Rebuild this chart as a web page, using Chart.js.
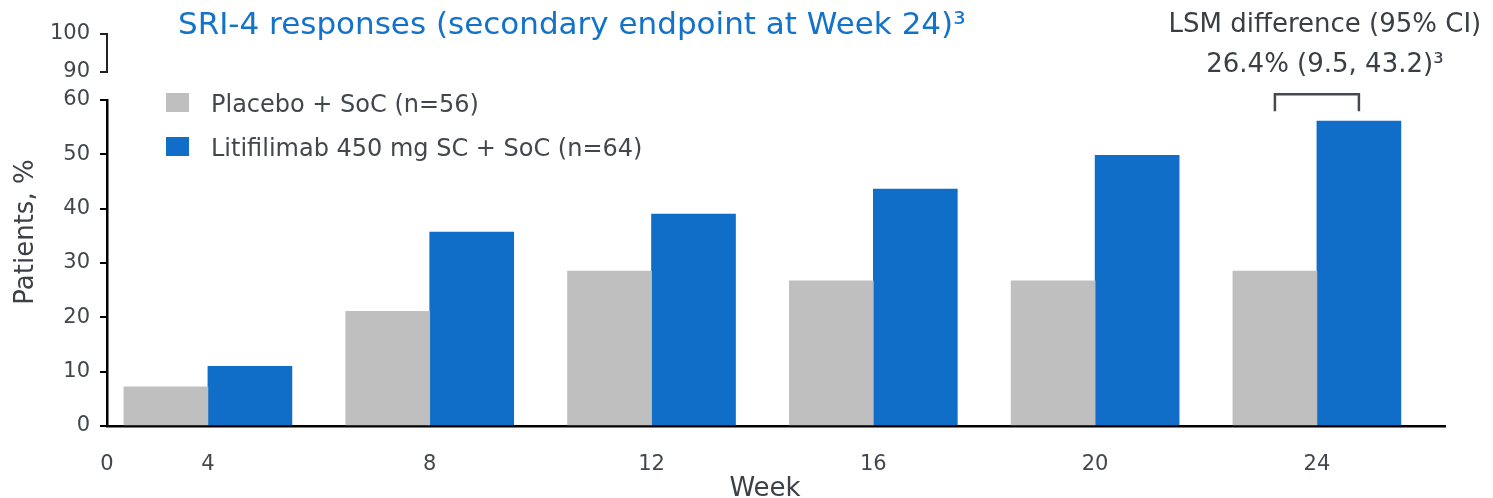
<!DOCTYPE html>
<html>
<head>
<meta charset="utf-8">
<script src="https://cdn.jsdelivr.net/npm/chart.js@4.4.1/dist/chart.umd.min.js"></script>
<style>
  html, body { margin: 0; padding: 0; background: #fff; }
  #wrap { width: 1493px; height: 498px; position: relative; }
</style>
</head>
<body>
<div id="wrap"><canvas id="chart" role="img" aria-label="SRI-4 responses by week"></canvas></div>
<script>
// data
const weeks = [4, 8, 12, 16, 20, 24];
const xTickLabels = ['0', '4', '8', '12', '16', '20', '24'];
const placebo = [7.2, 21.1, 28.5, 26.7, 26.7, 28.5];
const litifilimab = [11.0, 35.7, 39.0, 43.6, 49.8, 56.1];
const mainTicks = [0, 10, 20, 30, 40, 50, 60];
const topTicks = [90, 100];
const seriesLabels = ['Placebo + SoC (n=56)', 'Litifilimab 450 mg SC + SoC (n=64)'];
const titleText = 'SRI-4 responses (secondary endpoint at Week 24)³';
const lsmText = ['LSM difference (95% CI)', '26.4% (9.5, 43.2)³'];
const yTitle = 'Patients, %';
const xTitle = 'Week';

const FONT = "'DejaVu Sans', sans-serif";
const TEXT = '#42474d';
const GREY = '#bfbfbf';
const BLUE = '#106ec8';
const AXIS_W = 107;

const tickFont = { family: FONT, size: 21 };

// title, legend, bracket + axis titles are drawn on top of the chart
const overlay = {
  id: 'overlay',
  afterDraw(chart) {
    const { ctx, chartArea } = chart;
    ctx.save();

    ctx.fillStyle = '#1372c9';
    ctx.font = `31px ${FONT}`;
    ctx.textAlign = 'left';
    ctx.textBaseline = 'alphabetic';
    ctx.fillText(titleText, 178, 34);

    // legend
    ctx.font = `24px ${FONT}`;
    chart.data.datasets.forEach((ds, i) => {
      const base = 112 + i * 44;
      ctx.fillStyle = ds.backgroundColor;
      ctx.fillRect(166, base - 19, 23, 19);
      ctx.fillStyle = TEXT;
      ctx.fillText(ds.label, 211, base);
    });

    // bracket between the two week-24 bars
    const last = weeks.length - 1;
    const a = chart.getDatasetMeta(0).data[last];
    const b = chart.getDatasetMeta(1).data[last];
    const bottom = Math.min(a.y, b.y) - 10;
    const top = bottom - 17;
    ctx.strokeStyle = '#454a50';
    ctx.lineWidth = 2.5;
    ctx.beginPath();
    ctx.moveTo(a.x, bottom);
    ctx.lineTo(a.x, top);
    ctx.lineTo(b.x, top);
    ctx.lineTo(b.x, bottom);
    ctx.stroke();

    ctx.fillStyle = '#3a3f45';
    ctx.font = `26px ${FONT}`;
    ctx.textAlign = 'center';
    const cx = (a.x + b.x) / 2 + 8;
    ctx.fillText(lsmText[0], cx, 32);
    ctx.fillText(lsmText[1], cx, 72);

    // axis titles
    ctx.fillStyle = '#3c4147';
    ctx.font = `26px ${FONT}`;
    ctx.fillText(xTitle, (chartArea.left + chartArea.right) / 2 - 11, 496);
    ctx.save();
    ctx.translate(33, (chartArea.top + chartArea.bottom) / 2 + 2);
    ctx.rotate(-Math.PI / 2);
    ctx.fillText(yTitle, 0, 0);
    ctx.restore();

    ctx.restore();
  }
};

const fixWidth = (s) => { s.width = AXIS_W; };

new Chart(document.getElementById('chart'), {
  type: 'bar',
  data: {
    datasets: [
      {
        label: seriesLabels[0],
        data: weeks.map((w, i) => ({ x: w, y: placebo[i] })),
        backgroundColor: GREY,
        barThickness: 84,
        yAxisID: 'y'
      },
      {
        label: seriesLabels[1],
        data: weeks.map((w, i) => ({ x: w, y: litifilimab[i] })),
        backgroundColor: BLUE,
        barThickness: 84,
        yAxisID: 'y'
      }
    ]
  },
  plugins: [overlay],
  options: {
    responsive: true,
    maintainAspectRatio: false,
    animation: false,
    layout: { padding: { top: 34, right: 48, left: 0, bottom: 0 } },
    plugins: {
      legend: { display: false },
      tooltip: { enabled: false }
    },
    scales: {
      x: {
        type: 'linear',
        offset: false,
        min: 2.18,
        max: 26.31,
        afterBuildTicks(s) {
          s.ticks = [{ value: s.min }].concat(weeks.map((w) => ({ value: w })));
        },
        afterFit(s) { s.height = 72; },
        grid: { display: false, drawTicks: false, offset: false },
        border: { color: '#000', width: 2.5 },
        ticks: {
          font: tickFont,
          color: TEXT,
          padding: 26,
          maxRotation: 0,
          autoSkip: false,
          callback: (v, i) => xTickLabels[i]
        }
      },
      y: {
        type: 'linear',
        stack: 'v',
        stackWeight: 326,
        min: 0,
        max: 60,
        afterBuildTicks(s) { s.ticks = mainTicks.map((v) => ({ value: v })); },
        afterFit: fixWidth,
        grid: { drawOnChartArea: false, tickLength: 7, color: '#000', lineWidth: 2 },
        border: { color: '#000', width: 2.5 },
        ticks: { font: tickFont, color: TEXT, padding: 10, autoSkip: false }
      },
      yGap: {
        type: 'linear',
        stack: 'v',
        stackWeight: 28,
        min: 60,
        max: 90,
        afterFit: fixWidth,
        grid: { display: false, drawTicks: false },
        border: { display: false },
        ticks: { display: false }
      },
      yTop: {
        type: 'linear',
        stack: 'v',
        stackWeight: 38,
        min: 90,
        max: 100,
        afterBuildTicks(s) { s.ticks = topTicks.map((v) => ({ value: v })); },
        afterFit: fixWidth,
        grid: { drawOnChartArea: false, tickLength: 7, color: '#222', lineWidth: 2 },
        border: { color: '#222', width: 2 },
        ticks: { font: tickFont, color: TEXT, padding: 10, autoSkip: false }
      }
    }
  }
});
</script>
</body>
</html>
